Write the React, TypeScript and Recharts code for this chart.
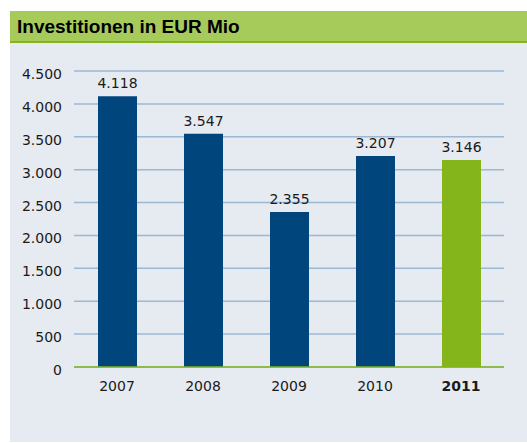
import React from "react";
import { BarChart, Bar, XAxis, YAxis, CartesianGrid, Cell, LabelList } from "recharts";

const years = ["2007", "2008", "2009", "2010", "2011"];
const investments = [4118, 3547, 2355, 3207, 3146];
const yTicks = [0, 500, 1000, 1500, 2000, 2500, 3000, 3500, 4000, 4500];

const data = years.map((y, i) => ({ year: y, value: investments[i] }));

const FONT = "'Liberation Sans', Arial, Helvetica, sans-serif";
const NUMFONT = "'DejaVu Sans', 'Liberation Sans', sans-serif";
const BLUE = "#00457c";
const GREEN = "#84b61c";

const fmt = (v: number) => v.toLocaleString("de-DE");

const YTick = (props: any) => {
  const { x, y, payload } = props;
  return (
    <text x={x} y={y + 8} textAnchor="end" fontFamily={NUMFONT} fontSize={14} fill="#1a1a1a">
      {fmt(payload.value)}
    </text>
  );
};

const XTick = (props: any) => {
  const { x, y, payload } = props;
  const last = payload.value === years[years.length - 1];
  return (
    <text
      x={x}
      y={y + 22}
      textAnchor="middle"
      fontFamily={NUMFONT}
      fontSize={14}
      fontWeight={last ? "bold" : "normal"}
      fill="#1a1a1a"
    >
      {payload.value}
    </text>
  );
};

export default function App() {
  return (
    <div style={{ position: "absolute", left: 0, top: 0, width: 527, height: 443, background: "#ffffff", overflow: "hidden" }}>
      <div
        style={{
          position: "absolute",
          left: 10,
          top: 11,
          width: 517,
          height: 30,
          background: "#a7cb5b",
          borderBottom: `2px solid ${GREEN}`,
        }}
      >
        <div
          style={{
            position: "absolute",
            left: 7,
            top: 5,
            fontFamily: FONT,
            fontWeight: "bold",
            fontSize: 19,
            lineHeight: "22px",
            color: "#000",
            whiteSpace: "nowrap",
          }}
        >
          Investitionen in EUR Mio
        </div>
      </div>
      <div style={{ position: "absolute", left: 10, top: 43, width: 517, height: 399, background: "#e6eaf1" }}>
        <BarChart
          width={517}
          height={380}
          data={data}
          margin={{ top: 28, right: 23, bottom: 26, left: 0 }}
          barSize={39}
        >
          <CartesianGrid vertical={false} stroke="#9db8d3" strokeWidth={1.5} />
          <YAxis
            width={64}
            domain={[0, 4500]}
            ticks={yTicks}
            axisLine={false}
            tickLine={false}
            tickSize={0}
            tickMargin={12}
            tick={<YTick />}
            interval={0}
          />
          <XAxis
            dataKey="year"
            height={30}
            axisLine={{ stroke: GREEN, strokeWidth: 1.5 }}
            tickLine={false}
            tickSize={0}
            tickMargin={2}
            tick={<XTick />}
            interval={0}
          />
          <Bar dataKey="value" isAnimationActive={false}>
            {data.map((d, i) => (
              <Cell key={d.year} fill={i === data.length - 1 ? GREEN : BLUE} />
            ))}
            <LabelList
              dataKey="value"
              position="top"
              offset={8}
              formatter={(v: any) => fmt(Number(v))}
              style={{ fontFamily: NUMFONT, fontSize: 14, fill: "#1a1a1a" }}
            />
          </Bar>
        </BarChart>
      </div>
    </div>
  );
}
